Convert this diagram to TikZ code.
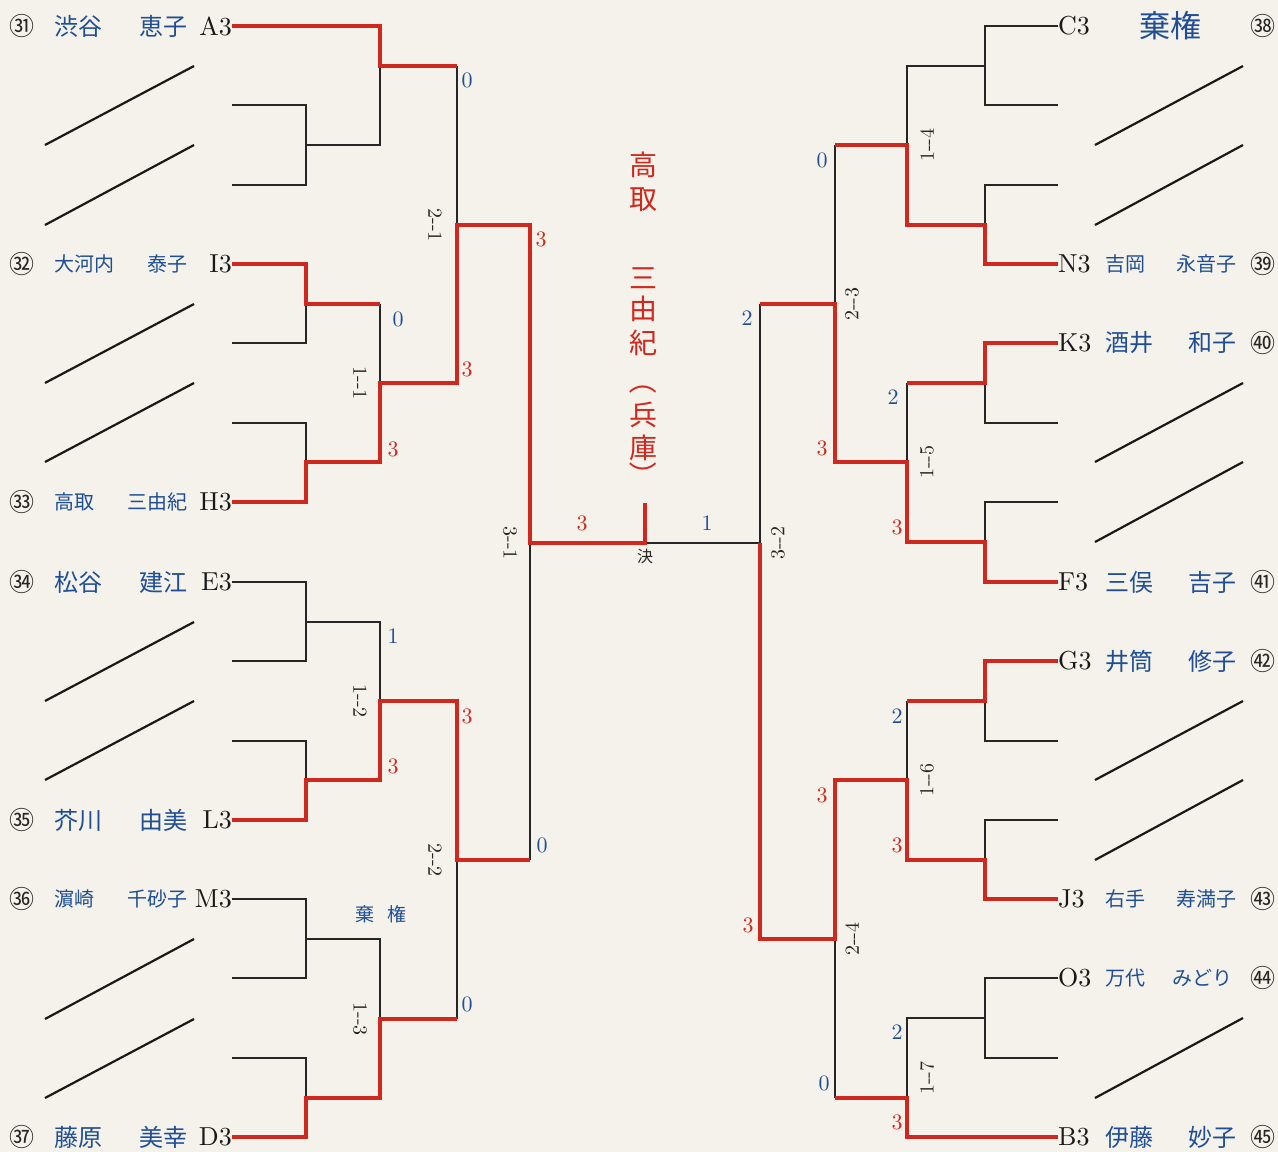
\documentclass[tikz,border=0pt]{standalone}
\usepackage{fontspec}
\newfontfamily\jp{Noto Sans CJK JP}
\newfontfamily\lmt{lmroman10-regular.otf}
\definecolor{wred}{HTML}{D0281E}
\definecolor{nblue}{HTML}{1F4E96}
\definecolor{paper}{HTML}{F4F2EA}
\begin{document}
\begin{tikzpicture}[x=1pt,y=-1pt,
  ll/.style={draw=black!85,line width=1.8pt},
  wl/.style={draw=wred,line width=3.8pt},
  sl/.style={draw=black!90,line width=2.2pt},
  code/.style={font=\lmt\fontsize{26}{26}\selectfont,inner sep=0pt,text=black!90},
  nmL/.style={font=\jp\fontsize{24}{24}\selectfont,text=nblue,inner sep=0pt},
  nmS/.style={font=\jp\fontsize{20}{20}\selectfont,text=nblue,inner sep=0pt},
  cnum/.style={font=\jp\fontsize{25}{25}\selectfont,text=black!85,inner sep=0pt},
  sb/.style={font=\lmt\fontsize{22}{22}\selectfont,text=nblue,inner sep=0pt},
  sr/.style={font=\lmt\fontsize{22}{22}\selectfont,text=wred,inner sep=0pt},
  mtl/.style={font=\lmt\fontsize{20}{20}\selectfont,rotate=-90,inner sep=0pt,text=black!85},
  mtr/.style={font=\lmt\fontsize{20}{20}\selectfont,rotate=90,inner sep=0pt,text=black!85},
  ctr/.style={font=\jp\fontsize{28}{28}\selectfont,text=wred,inner sep=0pt}]
\fill[paper] (0,0) rectangle (1278,1152);
\useasboundingbox (0,0) rectangle (1278,1152);

% ---------- left entries ----------
\node[cnum] (k31) at (22,26) {㉛};
\node[nmL,anchor=west] (s31) at (54,26) {渋谷};
\node[nmL,anchor=east] (g31) at (188,26) {恵子};
\node[code,anchor=east] (cA3) at (232,26) {A3};

\node[cnum] (k32) at (22,264) {㉜};
\node[nmS,anchor=west] (s32) at (54,264) {大河内};
\node[nmS,anchor=east] (g32) at (188,264) {泰子};
\node[code,anchor=east] (cI3) at (232,264) {I3};

\node[cnum] (k33) at (22,502) {㉝};
\node[nmS,anchor=west] (s33) at (54,502) {高取};
\node[nmS,anchor=east] (g33) at (188,502) {三由紀};
\node[code,anchor=east] (cH3) at (232,502) {H3};

\node[cnum] (k34) at (22,582) {㉞};
\node[nmL,anchor=west] (s34) at (54,582) {松谷};
\node[nmL,anchor=east] (g34) at (188,582) {建江};
\node[code,anchor=east] (cE3) at (232,582) {E3};

\node[cnum] (k35) at (22,820) {㉟};
\node[nmL,anchor=west] (s35) at (54,820) {芥川};
\node[nmL,anchor=east] (g35) at (188,820) {由美};
\node[code,anchor=east] (cL3) at (232,820) {L3};

\node[cnum] (k36) at (22,899) {㊱};
\node[nmS,anchor=west] (s36) at (54,899) {濵崎};
\node[nmS,anchor=east] (g36) at (188,899) {千砂子};
\node[code,anchor=east] (cM3) at (232,899) {M3};

\node[cnum] (k37) at (22,1137) {㊲};
\node[nmL,anchor=west] (s37) at (54,1137) {藤原};
\node[nmL,anchor=east] (g37) at (188,1137) {美幸};
\node[code,anchor=east] (cD3) at (232,1137) {D3};

% ---------- right entries ----------
\node[code,anchor=west] (cC3) at (1058,26) {C3};
\node[font=\jp\fontsize{31}{31}\selectfont,text=nblue,inner sep=0pt] (kiken1) at (1170,26) {棄権};
\node[cnum] (k38) at (1263,26) {㊳};

\node[code,anchor=west] (cN3) at (1058,264) {N3};
\node[nmS,anchor=west] (s39) at (1105,264) {吉岡};
\node[nmS,anchor=east] (g39) at (1237,264) {永音子};
\node[cnum] (k39) at (1263,264) {㊴};

\node[code,anchor=west] (cK3) at (1058,343) {K3};
\node[nmL,anchor=west] (s40) at (1105,343) {酒井};
\node[nmL,anchor=east] (g40) at (1237,343) {和子};
\node[cnum] (k40) at (1263,343) {㊵};

\node[code,anchor=west] (cF3) at (1058,582) {F3};
\node[nmL,anchor=west] (s41) at (1105,582) {三俣};
\node[nmL,anchor=east] (g41) at (1237,582) {吉子};
\node[cnum] (k41) at (1263,582) {㊶};

\node[code,anchor=west] (cG3) at (1058,661) {G3};
\node[nmL,anchor=west] (s42) at (1105,661) {井筒};
\node[nmL,anchor=east] (g42) at (1237,661) {修子};
\node[cnum] (k42) at (1263,661) {㊷};

\node[code,anchor=west] (cJ3) at (1058,899) {J3};
\node[nmS,anchor=west] (s43) at (1105,899) {右手};
\node[nmS,anchor=east] (g43) at (1237,899) {寿満子};
\node[cnum] (k43) at (1263,899) {㊸};

\node[code,anchor=west] (cO3) at (1058,978) {O3};
\node[nmS,anchor=west] (s44) at (1105,978) {万代};
\node[nmS,anchor=east] (g44) at (1233,978) {みどり};
\node[cnum] (k44) at (1263,978) {㊹};

\node[code,anchor=west] (cB3) at (1058,1137) {B3};
\node[nmL,anchor=west] (s45) at (1105,1137) {伊藤};
\node[nmL,anchor=east] (g45) at (1237,1137) {妙子};
\node[cnum] (k45) at (1263,1137) {㊺};

% ---------- slashes ----------
\draw[sl] (45,145) -- (194,66);   \draw[sl] (45,225) -- (194,145);
\draw[sl] (45,383) -- (194,304);  \draw[sl] (45,462) -- (194,383);
\draw[sl] (45,701) -- (194,622);  \draw[sl] (45,780) -- (194,701);
\draw[sl] (45,1019) -- (194,939); \draw[sl] (45,1098) -- (194,1019);
\draw[sl] (1095,145) -- (1243,66);  \draw[sl] (1095,225) -- (1243,145);
\draw[sl] (1095,462) -- (1243,383); \draw[sl] (1095,542) -- (1243,462);
\draw[sl] (1095,780) -- (1243,701); \draw[sl] (1095,860) -- (1243,780);
\draw[sl] (1095,1098) -- (1243,1018);

% ---------- left black lines ----------
\draw[ll] (232,105) -| (306,185) -- (232,185);
\draw[ll] (306,145) -| (380,66);
\draw[ll] (457,66) -- (457,225);
\draw[ll] (232,343) -| (306,304);
\draw[ll] (380,304) -- (380,383);
\draw[ll] (232,423) -| (306,462);
\draw[ll] (530,543) -- (530,860);
\draw[ll] (645,543) -- (760,543);
\draw[ll] (cE3.east) -| (306,661) -- (232,661);
\draw[ll] (306,622) -| (380,701);
\draw[ll] (232,741) -| (306,780);
\draw[ll] (457,860) -- (457,1019);
\draw[ll] (cM3.east) -| (306,978) -- (232,978);
\draw[ll] (306,939) -| (380,1019);
\draw[ll] (232,1058) -| (306,1098);

% ---------- right black lines ----------
\draw[ll] (cC3.west) -| (985,105) -- (1058,105);
\draw[ll] (985,66) -| (907,145);
\draw[ll] (1058,185) -| (985,225);
\draw[ll] (835,145) -- (835,304);
\draw[ll] (760,304) -- (760,543);
\draw[ll] (1058,423) -| (985,383);
\draw[ll] (907,383) -- (907,462);
\draw[ll] (1058,502) -| (985,542);
\draw[ll] (1058,741) -| (985,701);
\draw[ll] (907,701) -- (907,780);
\draw[ll] (1058,820) -| (985,860);
\draw[ll] (835,939) -- (835,1098);
\draw[ll] (cO3.west) -| (985,1058) -- (1058,1058);
\draw[ll] (985,1018) -| (907,1098);

% ---------- left red lines ----------
\draw[wl] (cA3.east) -| (380,66) -- (457,66);
\draw[wl] (cI3.east) -| (306,304) -- (380,304);
\draw[wl] (cH3.east) -| (306,462) -| (380,383) -| (457,225) -| (530,543) -- (645,543);
\draw[wl] (645,503) -- (645,545);
\draw[wl] (cL3.east) -| (306,780) -| (380,701) -| (457,860) -- (530,860);
\draw[wl] (cD3.east) -| (306,1098) -| (380,1019) -- (457,1019);

% ---------- right red lines ----------
\draw[wl] (cN3.west) -| (985,225) -| (907,145) -- (835,145);
\draw[wl] (cK3.west) -| (985,383) -- (907,383);
\draw[wl] (cF3.west) -| (985,542) -| (907,462) -| (835,304) -- (760,304);
\draw[wl] (cG3.west) -| (985,701) -- (907,701);
\draw[wl] (cJ3.west) -| (985,860) -| (907,780) -| (835,939) -| (760,543);
\draw[wl] (cB3.west) -| (907,1098) -- (835,1098);

% ---------- match labels ----------
\node[mtl] (m21) at (435,225) {2--1};
\node[mtl] (m11) at (360,383) {1--1};
\node[mtl] (m31) at (510,543) {3--1};
\node[mtl] (m12) at (360,701) {1--2};
\node[mtl] (m22) at (435,860) {2--2};
\node[mtl] (m13) at (360,1019) {1--3};
\node[mtr] (m14) at (927,145) {1--4};
\node[mtr] (m23) at (852,304) {2--3};
\node[mtr] (m15) at (927,462) {1--5};
\node[mtr] (m32) at (778,543) {3--2};
\node[mtr] (m16) at (927,780) {1--6};
\node[mtr] (m24) at (852,939) {2--4};
\node[mtr] (m17) at (927,1078) {1--7};
\node[font=\jp\fontsize{16}{16}\selectfont,inner sep=0pt,text=black!85] (fin) at (645,556) {決};

% ---------- scores ----------
\node[sb] (p1) at (467,80) {0};
\node[sr] (p2) at (541,239) {3};
\node[sb] (p3) at (398,319) {0};
\node[sr] (p4) at (467,369) {3};
\node[sr] (p5) at (393,449) {3};
\node[sr] (p6) at (582,523) {3};
\node[sb] (p7) at (707,523) {1};
\node[sb] (p8) at (393,636) {1};
\node[sr] (p9) at (467,716) {3};
\node[sr] (p10) at (393,766) {3};
\node[sb] (p11) at (542,845) {0};
\node[font=\jp\fontsize{19}{19}\selectfont,text=nblue,inner sep=0pt] (kiken2) at (381,914) {棄\hspace{0.7em}権};
\node[sb] (p12) at (467,1004) {0};
\node[sb] (q1) at (822,160) {0};
\node[sb] (q2) at (747,318) {2};
\node[sb] (q3) at (893,397) {2};
\node[sr] (q4) at (822,448) {3};
\node[sr] (q5) at (897,527) {3};
\node[sb] (q6) at (897,716) {2};
\node[sr] (q7) at (822,795) {3};
\node[sr] (q8) at (897,845) {3};
\node[sr] (q9) at (748,925) {3};
\node[sb] (q10) at (897,1032) {2};
\node[sb] (q11) at (824,1083) {0};
\node[sr] (q12) at (897,1122) {3};

% ---------- champion ----------
\node[ctr] (w1) at (643,165) {高};
\node[ctr] (w2) at (643,200) {取};
\node[ctr] (w3) at (643,278) {三};
\node[ctr] (w4) at (643,309) {由};
\node[ctr] (w5) at (643,343) {紀};
\node[ctr,rotate=-90] (w6) at (643,380) {（};
\node[ctr] (w7) at (643,415) {兵};
\node[ctr] (w8) at (643,448) {庫};
\node[ctr,rotate=-90] (w9) at (643,475) {）};
\end{tikzpicture}
\end{document}
